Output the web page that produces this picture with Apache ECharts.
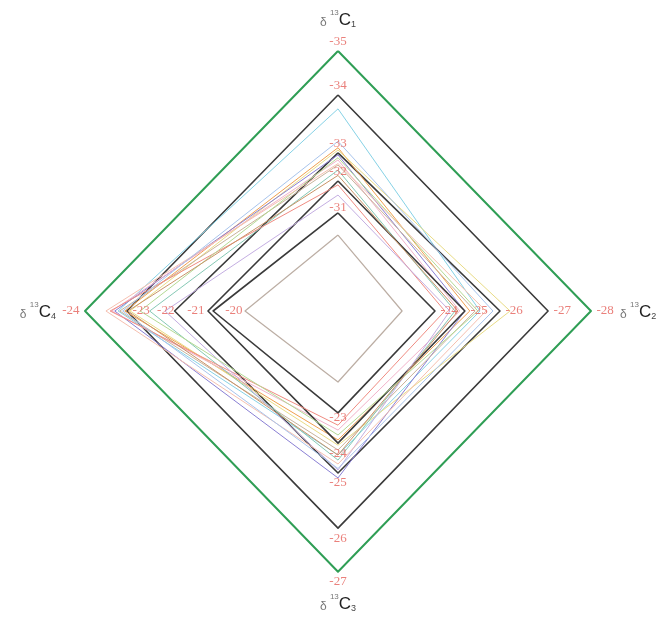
<!DOCTYPE html>
<html>
<head>
<meta charset="utf-8">
<script src="https://cdn.jsdelivr.net/npm/echarts@6/dist/echarts.min.js"></script>
<style>html,body{margin:0;padding:0;background:#fff;}#c{width:660px;height:619px;}</style>
</head>
<body>
<div id="c"></div>
<script>
// ---- data ----
const axisKeys = ['C1', 'C2', 'C3', 'C4'];          // δ13C1 top, δ13C2 right, δ13C3 bottom, δ13C4 left
const tickC1 = [-35, -34, -33, -32, -31];
const tickC2 = [-28, -27, -26, -25, -24];
const tickC3 = [-27, -26, -25, -24, -23];
const tickC4 = [-24, -23, -22, -21, -20];

const sampleNames = ['S1','S2','S3','S4','S5','S6','S7','S8','S9','S10','S11','S12','S13','S14','S15','S16','S17','S18','S19'];
const valC1 = [-35, -34, -33.76, -33, -33.09, -33.05, -32.93, -32.75, -32.57, -32.39, -32, -31.89, -31.6, -31.09, -30.46, -32.83, -32.2, -32.62, -33.2];
const valC2 = [-28, -27, -25.43, -26, -25.14, -26.21, -25, -24.83, -25.29, -24.67, -25, -24.33, -24.5, -24, -22.9, -25.37, -24.77, -25.6, -25.8];
const valC3 = [-27, -26, -24.4, -25, -23.91, -24.07, -25.09, -23.63, -24.23, -24.57, -24, -23.49, -24.9, -23.14, -22.26, -23.77, -24.4, -24.7, -24.85];
const valC4 = [-24, -23, -23.21, -22.1, -23.05, -22.94, -23.29, -23.36, -23.17, -22.57, -21.07, -23.4, -22.28, -20.92, -20.08, -22.75, -22.98, -23.5, -23.1];

// ---- styles ----
const colors = ['#2f9e55', '#3a3a3a', '#86d2e6', '#3a3a3a', '#f0a050', '#e9dc86', '#8a7fd4', '#f2b3cb', '#c9b39a', '#86c9b5', '#3a3a3a', '#f08c82', '#c4aee2', '#3a3a3a', '#bcaea4', '#b4da94', '#c99468', '#f6c0b0', '#a8c4ec'];
const widths = [2, 1.6, 1, 1.6, 1, 1, 1, 1, 1, 1, 1.6, 1, 1, 1.6, 1.2, 1, 1, 1, 1];

// nonuniform axis scale: tick positions as fraction of radar radius
const scaleFrac = {
  C1: [1.0, 0.831, 0.608, 0.50, 0.365],
  C2: [0.973, 0.808, 0.623, 0.488, 0.373],
  C3: [1.003, 0.835, 0.623, 0.508, 0.373],
  C4: [0.973, 0.812, 0.608, 0.492, 0.346]
};
const ticks = { C1: tickC1, C2: tickC2, C3: tickC3, C4: tickC4 };

function toFrac(key, v) {
  const t = ticks[key], f = scaleFrac[key], n = t.length;
  let k = -1;
  for (let i = 0; i < n - 1; i++) { if (v >= t[i] && v <= t[i + 1]) { k = i; break; } }
  if (k < 0) k = v < t[0] ? 0 : n - 2;
  const r = (v - t[k]) / (t[k + 1] - t[k]);
  return f[k] + r * (f[k + 1] - f[k]);
}

const CX = 338, CY = 311, R = 260;

// radar goes counterclockwise: top, left, bottom, right
const radarOrder = ['C1', 'C4', 'C3', 'C2'];
const vals = { C1: valC1, C2: valC2, C3: valC3, C4: valC4 };

const radarData = sampleNames.map((nm, i) => ({
  name: nm,
  value: radarOrder.map(k => toFrac(k, vals[k][i])),
  lineStyle: { color: colors[i], width: widths[i] }
}));

// tick labels via polar (angle 0 top, 1 right, 2 bottom, 3 left; clockwise)
const labelPos = ['top', 'right', 'bottom', 'left'];
const labelDist = [2, 5, 3, 5];
const tickData = [];
axisKeys.forEach((k, ai) => {
  ticks[k].forEach((tv, ti) => {
    let pos = labelPos[ai], dist = labelDist[ai];
    if (ai === 3 && ti === 1) { pos = 'right'; dist = 5; }
    tickData.push({
      value: [toFrac(k, tv), ai],
      label: { position: pos, distance: dist, formatter: String(tv) }
    });
  });
});

const chart = echarts.init(document.getElementById('c'));
chart.setOption({
  animation: false,
  backgroundColor: '#fff',
  radar: {
    center: [CX, CY],
    radius: R,
    startAngle: 90,
    shape: 'polygon',
    splitNumber: 1,
    indicator: radarOrder.map(k => ({ name: k, min: 0, max: 1 })),
    axisLine: { show: false },
    splitLine: { show: false },
    splitArea: { show: false },
    axisTick: { show: false },
    nameGap: 22,
    axisName: {
      formatter: function (name) {
        return '{d|δ} {s|13}{c|C}{b|' + name.slice(1) + '}';
      },
      rich: {
        d: { fontFamily: 'Liberation Sans', fontSize: 12, color: '#777', lineHeight: 20, verticalAlign: 'bottom' },
        s: { fontFamily: 'Liberation Sans', fontSize: 8, color: '#777', lineHeight: 20, verticalAlign: 'top' },
        c: { fontFamily: 'Liberation Sans', fontSize: 17, color: '#222', lineHeight: 20, verticalAlign: 'bottom' },
        b: { fontFamily: 'Liberation Sans', fontSize: 9, color: '#444', lineHeight: 20, verticalAlign: 'bottom' }
      }
    }
  },
  polar: { center: [CX, CY], radius: R * 1.2 },
  angleAxis: { type: 'value', min: 0, max: 4, startAngle: 90, clockwise: true, show: false },
  radiusAxis: { type: 'value', min: 0, max: 1.2, show: false },
  series: [
    {
      type: 'radar',
      symbol: 'none',
      data: radarData
    },
    {
      type: 'scatter',
      coordinateSystem: 'polar',
      symbolSize: 1,
      clip: false,
      itemStyle: { color: 'rgba(0,0,0,0)' },
      label: {
        show: true,
        fontFamily: 'Liberation Serif',
        fontSize: 13,
        color: '#e5605a'
      },
      labelLayout: { hideOverlap: false },
      data: tickData,
      z: 5
    }
  ]
});
</script>
</body>
</html>
